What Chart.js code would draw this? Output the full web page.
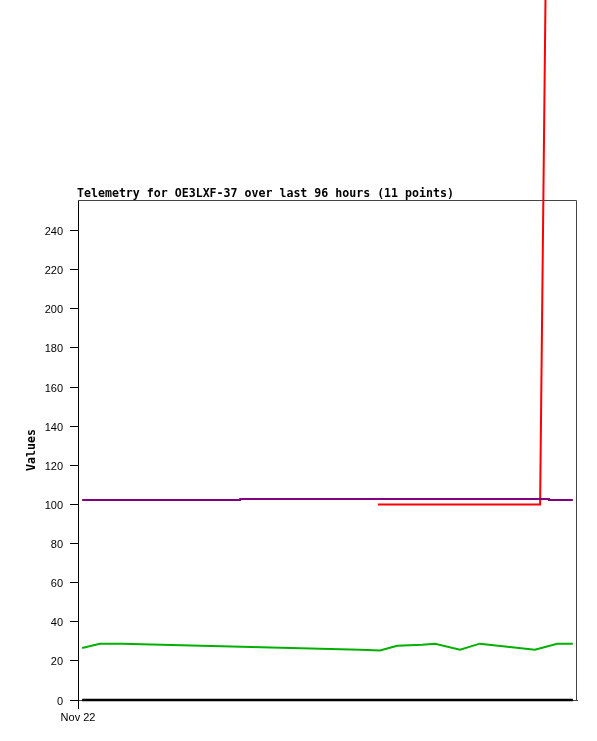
<!DOCTYPE html>
<html>
<head>
<meta charset="utf-8">
<script src="https://cdn.jsdelivr.net/npm/chart.js@4"></script>
<style>
  html, body { margin: 0; padding: 0; background: #fff; }
  #wrap { width: 597px; height: 741px; }
</style>
</head>
<body>
<div id="wrap"><canvas id="telemetry" width="597" height="741"></canvas></div>
<script>
// hours since start of window (96 h)
const greenHours = [0.8, 4.2, 8.5, 54.3, 58.1, 61.4, 66.2, 68.7, 73.5, 77.3, 87.9, 92.2, 95.2]
const greenValues = [26.6, 28.8, 28.7, 25.7, 25.3, 27.7, 28.3, 28.8, 25.7, 28.8, 25.7, 28.8, 28.8]

const purpleHours = [0.8, 31.2, 90.6, 95.2]
const purpleValues = [102.2, 102.8, 102.2, 102.2]

const redHours = [57.7, 88.9, 95.2]
const redValues = [100, 100, 1670]

const blackHours = [0.8, 95.2]
const blackValues = [0, 0]

const yTicks = [0, 20, 40, 60, 80, 100, 120, 140, 160, 180, 200, 220, 240]
const xTickLabel = 'Nov 22'
const chartTitle = 'Telemetry for OE3LXF-37 over last 96 hours (11 points)'

const toPoints = (xs, ys) => xs.map((x, i) => ({ x, y: ys[i] }))

const frame = {
  id: 'frame',
  beforeDatasetsDraw(chart) {
    const { ctx, chartArea } = chart
    const { left, top, right, bottom } = chartArea
    ctx.save()
    ctx.strokeStyle = '#444'
    ctx.lineWidth = 1
    ctx.beginPath()
    ctx.moveTo(left, top + 0.5)
    ctx.lineTo(right - 0.5, top + 0.5)
    ctx.lineTo(right - 0.5, bottom)
    ctx.stroke()
    ctx.restore()
  },
  afterDraw(chart) {
    const { ctx } = chart
    ctx.save()
    ctx.fillStyle = '#000'
    ctx.font = 'bold 11.6px "DejaVu Sans Mono"'
    ctx.textBaseline = 'middle'
    ctx.textAlign = 'left'
    ctx.fillText(chartTitle, 77, 193.5)
    ctx.restore()
  },
}

const lineStyle = (colour) => ({
  borderColor: colour,
  backgroundColor: colour,
  borderWidth: 2,
  pointRadius: 0,
  fill: false,
  tension: 0,
})

new Chart(document.getElementById('telemetry'), {
  type: 'line',
  data: {
    datasets: [
      { label: 'black', data: toPoints(blackHours, blackValues), ...lineStyle('#000000'), borderWidth: 2.5, clip: false },
      { label: 'green', data: toPoints(greenHours, greenValues), ...lineStyle('#00b000') },
      { label: 'purple', data: toPoints(purpleHours, purpleValues), stepped: 'before', ...lineStyle('#800080') },
      { label: 'red', data: toPoints(redHours, redValues), clip: false, ...lineStyle('#ff0000') },
    ],
  },
  options: {
    responsive: false,
    devicePixelRatio: 1,
    animation: false,
    layout: { padding: { top: 200, right: 20, bottom: 0, left: 0 } },
    plugins: {
      legend: { display: false },
      tooltip: { enabled: false },
      title: { display: false },
    },
    scales: {
      x: {
        type: 'linear',
        min: 0,
        max: 96,
        afterFit(scale) { scale.height = 41 },
        afterBuildTicks(scale) { scale.ticks = [{ value: 0 }] },
        ticks: {
          callback: () => xTickLabel,
          color: '#000',
          font: { family: '"Liberation Sans"', size: 11 },
          padding: 2,
          maxRotation: 0,
          autoSkip: false,
        },
        grid: { drawOnChartArea: false, color: '#000', tickLength: 9 },
        border: { color: '#444', width: 1 },
      },
      y: {
        min: 0,
        max: 255.6,
        afterFit(scale) { scale.width = 78 },
        afterBuildTicks(scale) { scale.ticks = yTicks.map((value) => ({ value })) },
        ticks: {
          color: '#000',
          font: { family: '"Liberation Sans"', size: 11 },
          padding: 7,
          labelOffset: 1.5,
        },
        grid: { drawOnChartArea: false, color: '#000', tickLength: 8 },
        border: { color: '#000', width: 1 },
        title: {
          display: true,
          text: 'Values',
          color: '#000',
          font: { family: '"DejaVu Sans Mono"', size: 11.6, weight: 'bold' },
          padding: { top: 25, bottom: 0 },
        },
      },
    },
  },
  plugins: [frame],
})
</script>
</body>
</html>
